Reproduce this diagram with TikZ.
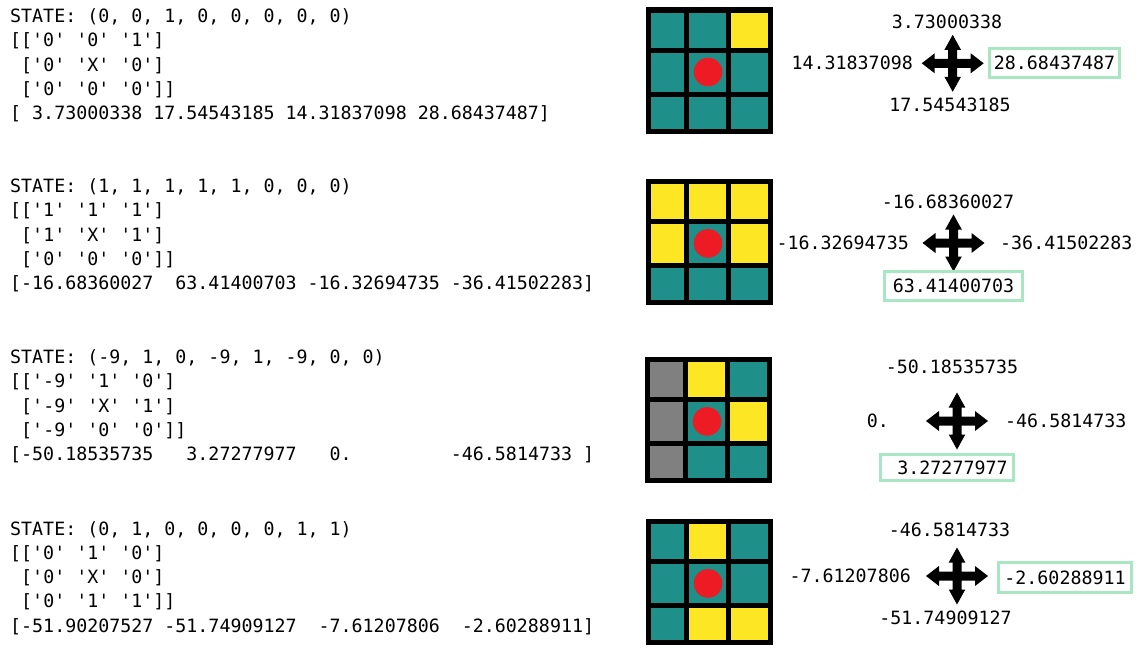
\documentclass[tikz,border=0pt]{standalone}
\usepackage{fontspec}
\setmonofont{DejaVu Sans Mono}
\definecolor{cellteal}{HTML}{1F8F89}
\definecolor{cellyellow}{HTML}{FDE725}
\definecolor{cellgray}{HTML}{808080}
\definecolor{dotred}{HTML}{ED1C24}
\definecolor{boxgreen}{HTML}{A8E6C4}
% grid: #1 x0, #2 y0, #3..: nine cell colours (row by row)
\newcommand\drawgrid[3]{%
  \fill[black] (#1,#2) rectangle ++(127,126.5);
  \foreach \cc [count=\i from 0] in {#3} {%
    \pgfmathtruncatemacro\rr{int(\i/3)}%
    \pgfmathtruncatemacro\kk{mod(\i,3)}%
    \ifcase\kk \def\xa{5}\def\xb{38}\or \def\xa{43}\def\xb{80}\else \def\xa{85}\def\xb{121.5}\fi
    \ifcase\rr \def\ya{5.3}\def\yb{40.3}\or \def\ya{45.3}\def\yb{84.3}\else \def\ya{89.3}\def\yb{121.3}\fi
    \fill[\cc] ({#1+\xa},{#2+\ya}) rectangle ({#1+\xb},{#2+\yb});
  }
  \fill[dotred] ({#1+62},{#2+64.7}) circle (14.3);
}
\tikzset{
  codeline/.style={anchor=base west, inner sep=0pt, font=\ttfamily\fontsize{18.3}{22}\selectfont},
  qval/.style={inner sep=0pt, font=\ttfamily\fontsize{18.3}{22}\selectfont},
  bestbox/.style={qval, draw=boxgreen, line width=3pt},
  pics/cross/.style={code={
    \fill[black] (31,0) -- (18,10) -- (18,4.5) -- (4.5,4.5) -- (4.5,13.5) -- (8.3,13.5) -- (0,28.5)
      -- (-8.3,13.5) -- (-4.5,13.5) -- (-4.5,4.5) -- (-18,4.5) -- (-18,10) -- (-31,0)
      -- (-18,-10) -- (-18,-4.5) -- (-4.5,-4.5) -- (-4.5,-13.5) -- (-8.3,-13.5) -- (0,-28.5)
      -- (8.3,-13.5) -- (4.5,-13.5) -- (4.5,-4.5) -- (18,-4.5) -- (18,-10) -- cycle;
  }},
}
\begin{document}
\begin{tikzpicture}[x=1pt,y=-1pt]
\fill[white] (0,0) rectangle (1148,655);
\useasboundingbox (0,0) rectangle (1148,655);

% ---------- panel 1 ----------
\node[codeline] (p1a) at (10,22.5) {STATE: (0, 0, 1, 0, 0, 0, 0, 0)};
\node[codeline] (p1b) at (10,46.8) {[['0' '0' '1']};
\node[codeline] (p1c) at (10,71.1) {~['0' 'X' '0']};
\node[codeline] (p1d) at (10,95.4) {~['0' '0' '0']]};
\node[codeline] (p1e) at (10,119.7) {[ 3.73000338 17.54543185 14.31837098 28.68437487]};
\drawgrid{646}{7.3}{cellteal,cellteal,cellyellow,cellteal,cellteal,cellteal,cellteal,cellteal,cellteal}
\pic at (952.7,63.3) {cross};
\node[qval] (p1up) at (947,22) {3.73000338};
\node[qval] (p1down) at (950,105) {17.54543185};
\node[qval, anchor=east] (p1left) at (913,63) {14.31837098};
\node[bestbox, minimum width=130, minimum height=29] (p1right) at (1054.5,63) {28.68437487};

% ---------- panel 2 ----------
\node[codeline] (p2a) at (10,192.5) {STATE: (1, 1, 1, 1, 1, 0, 0, 0)};
\node[codeline] (p2b) at (10,216.8) {[['1' '1' '1']};
\node[codeline] (p2c) at (10,241.1) {~['1' 'X' '1']};
\node[codeline] (p2d) at (10,265.4) {~['0' '0' '0']]};
\node[codeline] (p2e) at (10,289.7) {[-16.68360027~~63.41400703 -16.32694735 -36.41502283]};
\drawgrid{646}{178.7}{cellyellow,cellyellow,cellyellow,cellyellow,cellteal,cellyellow,cellteal,cellteal,cellteal}
\pic at (953.5,243) {cross};
\node[qval] (p2up) at (948,202) {-16.68360027};
\node[qval, anchor=east] (p2left) at (909,243) {-16.32694735};
\node[qval, anchor=west] (p2right) at (1000,243) {-36.41502283};
\node[bestbox, minimum width=138, minimum height=29] (p2down) at (953.5,286) {63.41400703};

% ---------- panel 3 ----------
\node[codeline] (p3a) at (10,363.5) {STATE: (-9, 1, 0, -9, 1, -9, 0, 0)};
\node[codeline] (p3b) at (10,387.8) {[['-9' '1' '0']};
\node[codeline] (p3c) at (10,412.1) {~['-9' 'X' '1']};
\node[codeline] (p3d) at (10,436.4) {~['-9' '0' '0']]};
\node[codeline] (p3e) at (10,460.7) {[-50.18535735~~~3.27277977~~~0.~~~~~~~~~-46.5814733~]};
\drawgrid{645}{356.7}{cellgray,cellyellow,cellteal,cellgray,cellteal,cellyellow,cellgray,cellteal,cellteal}
\pic at (957,421) {cross};
\node[qval] (p3up) at (952,367) {-50.18535735};
\node[qval, anchor=east] (p3left) at (889,421) {0.};
\node[qval, anchor=west] (p3right) at (1005,421) {-46.5814733};
\node[bestbox, minimum width=133, minimum height=26] (p3down) at (947,467.5) {~3.27277977};

% ---------- panel 4 ----------
\node[codeline] (p4a) at (10,535) {STATE: (0, 1, 0, 0, 0, 0, 1, 1)};
\node[codeline] (p4b) at (10,559.3) {[['0' '1' '0']};
\node[codeline] (p4c) at (10,583.6) {~['0' 'X' '0']};
\node[codeline] (p4d) at (10,607.9) {~['0' '1' '1']]};
\node[codeline] (p4e) at (10,632.2) {[-51.90207527 -51.74909127~~-7.61207806~~-2.60288911]};
\drawgrid{646}{518.7}{cellteal,cellyellow,cellteal,cellteal,cellteal,cellteal,cellteal,cellyellow,cellyellow}
\pic at (957,576) {cross};
\node[qval] (p4up) at (949.5,530) {-46.5814733};
\node[qval] (p4down) at (945.5,618) {-51.74909127};
\node[qval, anchor=east] (p4left) at (911,576) {-7.61207806};
\node[bestbox, minimum width=133, minimum height=30] (p4right) at (1065,577.5) {-2.60288911};
\end{tikzpicture}
\end{document}
